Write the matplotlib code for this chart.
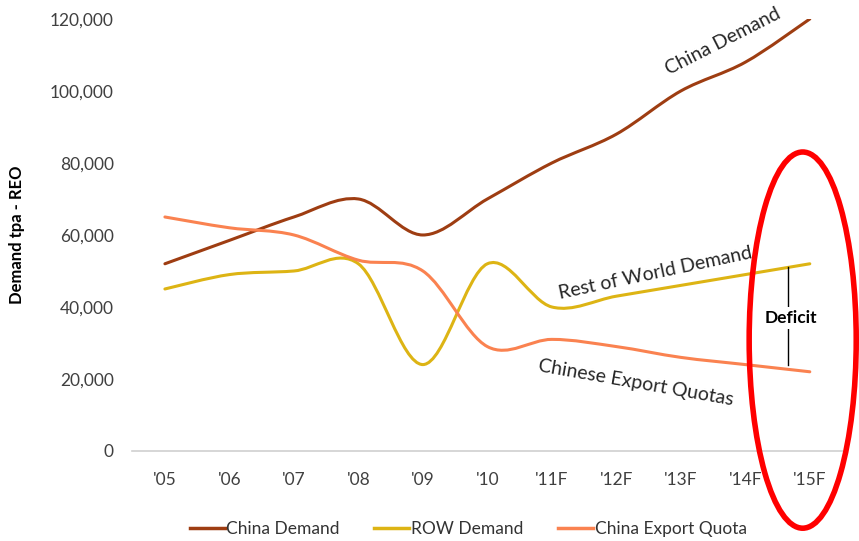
import matplotlib.pyplot as plt
from matplotlib.path import Path
from matplotlib.patches import PathPatch, Ellipse
from matplotlib.lines import Line2D
import numpy as np

years = ["'05", "'06", "'07", "'08", "'09", "'10", "'11F", "'12F", "'13F", "'14F", "'15F"]
china_demand = [52000, 58500, 65000, 70000, 60000, 70000, 80000, 88000, 100000, 108000, 120000]
row_demand = [45000, 49000, 50000, 52000, 24000, 52000, 40000, 43000, 46000, 49000, 52000]
export_quota = [65000, 62000, 60000, 53000, 50000, 29000, 31000, 29000, 26000, 24000, 22000]

c_china = "#9E3D12"
c_row = "#DDB414"
c_quota = "#FA8250"

plt.rcParams['font.family'] = ['Lato', 'DejaVu Sans']


def smooth_path(xs, ys):
    # excel-like smoothed line: bezier segments with catmull-rom handles
    pts = np.column_stack([xs, ys]).astype(float)
    n = len(pts)
    verts = [pts[0]]
    codes = [Path.MOVETO]
    for i in range(n - 1):
        p0 = pts[i - 1] if i > 0 else pts[i]
        p1 = pts[i]
        p2 = pts[i + 1]
        p3 = pts[i + 2] if i + 2 < n else pts[i + 1]
        c1 = p1 + (p2 - p0) / 6.0
        c2 = p2 - (p3 - p1) / 6.0
        verts += [c1, c2, p2]
        codes += [Path.CURVE4] * 3
    return Path(verts, codes)


fig = plt.figure(figsize=(8.59, 5.41), dpi=100)
ax = fig.add_axes([0.1537, 0.1664, 0.8273, 0.7985])

x = np.arange(len(years))
for vals, col in [(china_demand, c_china), (row_demand, c_row), (export_quota, c_quota)]:
    ax.add_patch(PathPatch(smooth_path(x, vals), facecolor="none", edgecolor=col, lw=2.2,
                           capstyle="round", joinstyle="round"))

ax.set_xlim(-0.51, 10.51)
ax.set_ylim(0, 120000)
ax.set_xticks(x)
ax.set_xticklabels(years)
ax.set_yticks(range(0, 120001, 20000))
ax.set_yticklabels([f"{v:,}" for v in range(0, 120001, 20000)])
ax.tick_params(axis="both", length=0, labelsize=12.5, colors="#404040")
ax.tick_params(axis="x", pad=15)
ax.tick_params(axis="y", pad=13)
for s in ["top", "right", "left"]:
    ax.spines[s].set_visible(False)
ax.spines["bottom"].set_color("#D0D0D0")
ax.spines["bottom"].set_linewidth(1.2)

ax.set_ylabel("Demand tpa - REO", fontsize=12, fontweight="bold", color="black")
ax.yaxis.set_label_coords(-0.15, 0.5)

# inline labels
ax.text(8.66, 113800, "China Demand", rotation=27, fontsize=14, color="#262626",
        ha="center", va="center")
ax.text(7.6, 49500, "Rest of World Demand", rotation=12, fontsize=14, color="#262626",
        ha="center", va="center")
ax.text(7.3, 19000, "Chinese Export Quotas", rotation=-10, fontsize=14, color="#262626",
        ha="center", va="center")

# deficit marker
ax.plot([9.66, 9.66], [24000, 51000], color="black", lw=1)
ax.text(9.7, 37000, "Deficit", fontsize=12.5, fontweight="bold", ha="center", va="center",
        bbox=dict(facecolor="white", edgecolor="none", pad=2))

ax.add_patch(Ellipse((9.89, 30800), 1.66, 104500, facecolor="none", edgecolor="#FF0000",
                     lw=4, clip_on=False, zorder=5))

handles = [Line2D([], [], color=c_china, lw=2.5),
           Line2D([], [], color=c_row, lw=2.5),
           Line2D([], [], color=c_quota, lw=2.5)]
fig.legend(handles, ["China Demand", "ROW Demand", "China Export Quota"], loc="center",
           bbox_to_anchor=(0.545, 0.022), ncol=3, frameon=False, fontsize=12.5,
           handlelength=2.0, handletextpad=0.1, columnspacing=2.0, labelcolor="#333333")

fig.savefig("out.png", dpi=100)
